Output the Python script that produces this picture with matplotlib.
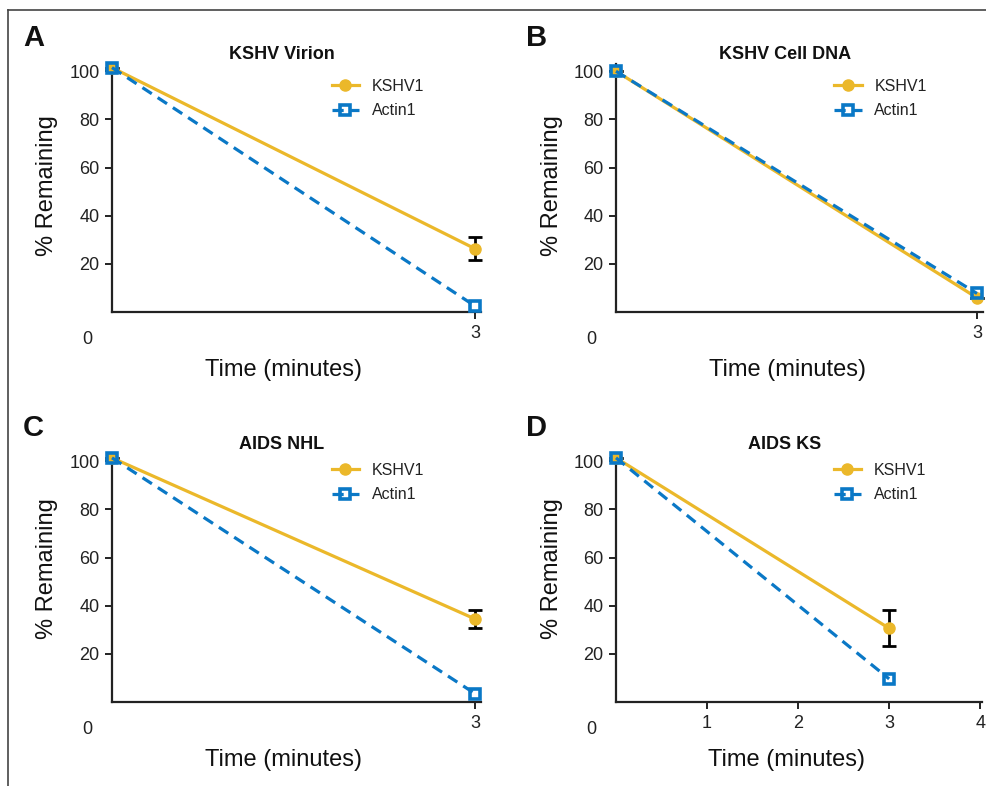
import matplotlib
matplotlib.use("Agg")
import matplotlib.pyplot as plt
from matplotlib.lines import Line2D

plt.rcParams['font.family'] = ['Liberation Sans', 'DejaVu Sans']

# data
times = [0, 3]
titles = ['KSHV Virion', 'KSHV Cell DNA', 'AIDS NHL', 'AIDS KS']
letters = ['A', 'B', 'C', 'D']
kshv1 = [[101.5, 26.3], [100.0, 5.9], [101.4, 34.5], [101.4, 30.6]]
kshv1_err = [[0, 4.7], [0, 0], [0, 3.6], [0, 7.5]]
actin1 = [[101.5, 2.5], [100.0, 7.7], [101.4, 3.5], [101.4, 9.6]]
y_ticks = [20, 40, 60, 80, 100]
x_ticks = [[3], [3], [3], [1, 2, 3, 4]]
x_max = [3.05, 3.05, 3.05, 4.02]

gold = '#EBB82A'
blue = '#0A78C6'

W, H = 987, 786
fig = plt.figure(figsize=(W / 100, H / 100), dpi=100)

# axes boxes in pixels: left, bottom(y from top), width
boxes = [(112, 312, 369), (616, 312, 367), (112, 702, 369), (616, 702, 366)]
ax_h = 248
legend_y = [0.94, 0.94, 0.965, 0.965]
ylabel_y = [0.51, 0.51, 0.54, 0.54]
letter_pos = [(34, 38), (537, 38), (33, 428), (537, 428)]

gold_style = dict(color=gold, lw=2.3, marker='o', ms=8, mec=gold, mfc=gold)
blue_style = dict(color=blue, lw=2.3, ls=(0, (3.5, 2.2)), marker='s', ms=7.5,
                  mfc='none', mec=blue, mew=2.6)

for i in range(4):
    l, b, w = boxes[i]
    ax = fig.add_axes([l / W, 1 - b / H, w / W, ax_h / H])

    ax.errorbar(times, kshv1[i], yerr=kshv1_err[i], ecolor='black',
                elinewidth=2, capsize=5, capthick=2, zorder=3, clip_on=False,
                **gold_style)
    ax.plot(times, actin1[i], zorder=4, clip_on=False, **blue_style)

    ax.set_xlim(0, x_max[i])
    ax.set_ylim(0, 103)
    ax.set_yticks(y_ticks)
    ax.set_xticks(x_ticks[i])
    for s in ['top', 'right']:
        ax.spines[s].set_visible(False)
    for s in ['left', 'bottom']:
        ax.spines[s].set_linewidth(1.6)
        ax.spines[s].set_color('#222222')
        ax.spines[s].set_zorder(1)
    ax.tick_params(direction='out', length=5, width=1.4, labelsize=13,
                   colors='#222222', pad=4)

    # shared origin label
    ax.annotate('0', xy=(0, 0), xycoords='axes fraction', xytext=(-18, -20),
                textcoords='offset points', ha='center', va='center',
                fontsize=13, color='#222222')

    ax.set_xlabel('Time (minutes)', fontsize=17, color='#111111')
    ax.xaxis.set_label_coords(0.466, -0.235)
    ax.xaxis.label.set_va('center')
    ax.set_ylabel('% Remaining', fontsize=17, color='#111111')
    ax.yaxis.set_label_coords(-0.175, ylabel_y[i])
    ax.yaxis.label.set_va('center')

    ax.text(0.46, 1.04, titles[i], transform=ax.transAxes, ha='center',
            va='center', fontsize=13, fontweight='bold', color='#111111')

    handles = [Line2D([], [], **gold_style), Line2D([], [], **blue_style)]
    leg = ax.legend(handles, ['KSHV1', 'Actin1'], loc='upper left',
                    bbox_to_anchor=(0.595, legend_y[i]),
                    frameon=False, fontsize=11.5, handlelength=1.7,
                    handletextpad=0.8, labelspacing=0.6, borderpad=0,
                    borderaxespad=0)
    for t in leg.get_texts():
        t.set_color('#222222')

    lx, ly = letter_pos[i]
    fig.text(lx / W, 1 - ly / H, letters[i], ha='center', va='center',
             fontsize=21, fontweight='bold', color='#111111')

# outer frame lines (left and top)
fig.add_artist(Line2D([8 / W, 8 / W], [0, 1 - 10 / H], color='#444444', lw=1.2))
fig.add_artist(Line2D([8 / W, 1], [1 - 10 / H, 1 - 10 / H], color='#444444', lw=1.2))

fig.savefig('out.png', dpi=100)
plt.close(fig)
